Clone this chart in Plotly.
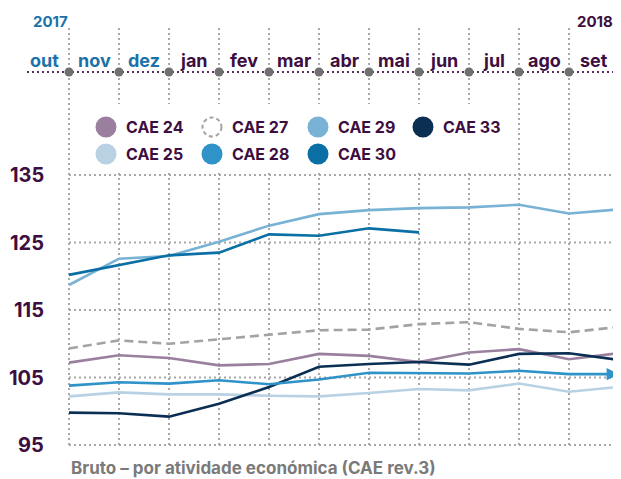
import plotly.graph_objects as go

# page is rendered with an 8px body margin: figure pixel = page pixel - 8
OFF = 8
W, H = 621 - OFF, 479 - OFF

months = ["out", "nov", "dez", "jan", "fev", "mar", "abr", "mai", "jun", "jul", "ago", "set"]
month_colors = ["#1a72a8"] * 3 + ["#3d0e40"] * 9
y_ticks = [95, 105, 115, 125, 135]

cae24 = [107.2, 108.3, 107.9, 106.8, 107.0, 108.5, 108.2, 107.3, 108.7, 109.2, 107.7, 108.6]
cae25 = [102.2, 102.8, 102.5, 102.5, 102.3, 102.2, 102.7, 103.3, 103.1, 104.1, 102.9, 103.6]
cae27 = [109.3, 110.5, 110.0, 110.7, 111.4, 112.0, 112.1, 112.9, 113.2, 112.2, 111.7, 112.5]
cae28 = [103.8, 104.3, 104.1, 104.6, 104.0, 104.7, 105.7, 105.7, 105.6, 106.0, 105.5, 105.5]
cae29 = [118.7, 122.6, 123.0, 125.1, 127.5, 129.2, 129.8, 130.1, 130.2, 130.6, 129.3, 129.9]
cae30 = [120.2, 121.6, 123.1, 123.5, 126.2, 126.0, 127.1, 126.5, None, None, None, None]
cae33 = [99.8, 99.7, 99.2, 101.1, 103.6, 106.6, 107.0, 107.3, 106.9, 108.5, 108.6, 107.6]

series = [
    ("CAE 24", cae24, "#9a7f9e", "solid"),
    ("CAE 25", cae25, "#b9d2e3", "solid"),
    ("CAE 27", cae27, "#a3a3a3", "9px,5px"),
    ("CAE 29", cae29, "#78b2d4", "solid"),
    ("CAE 30", cae30, "#0a6fa5", "solid"),
    ("CAE 33", cae33, "#0b2f52", "solid"),
    ("CAE 28", cae28, "#2f93c8", "solid"),
]
legend_order = ["CAE 24", "CAE 27", "CAE 29", "CAE 33", "CAE 25", "CAE 28", "CAE 30"]

PURPLE = "#3d0e40"
GRID = "#a8a8a8"
FONT = "Inter"


def px2x(px):
    return (px - OFF) / W


def py2y(py):
    return 1 - (py - OFF) / H


fig = go.Figure()
for name, vals, color, dash in series:
    fig.add_trace(go.Scatter(
        x=months, y=vals, mode="lines", name=name,
        line=dict(color=color, width=2.6, dash=dash),
        showlegend=False, hoverinfo="skip", connectgaps=False))

shapes = []
annotations = []

# arrow head at the end of CAE 28
annotations.append(dict(x=len(months) - 1, y=cae28[-1], xref="x", yref="y", text="",
                        showarrow=True, ax=-14, ay=0, axref="pixel", ayref="pixel",
                        arrowhead=2, arrowsize=0.95, arrowwidth=2.6, arrowcolor="#2f93c8",
                        standoff=0))

# vertical gridlines
for i in range(len(months)):
    shapes.append(dict(type="line", xref="x", yref="paper", x0=i, x1=i,
                       y0=py2y(28), y1=py2y(446), layer="below",
                       line=dict(color=GRID, width=2, dash="2px,3px")))
# horizontal gridlines
for v in y_ticks:
    shapes.append(dict(type="line", xref="paper", yref="y", x0=px2x(69), x1=1, y0=v, y1=v,
                       layer="below", line=dict(color=GRID, width=2, dash="2px,3px")))
    annotations.append(dict(x=px2x(46), y=v, xref="paper", yref="y", text=f"<b>{v}</b>",
                            showarrow=False, xanchor="right", yanchor="middle",
                            font=dict(family=FONT, size=20, color=PURPLE)))

# white legend background
shapes.append(dict(type="rect", xref="paper", yref="paper", x0=px2x(71), x1=px2x(517),
                   y0=py2y(104), y1=py2y(173), fillcolor="white", line=dict(width=0), layer="below"))

# top timeline
shapes.append(dict(type="line", xref="paper", yref="paper", x0=px2x(27), x1=1,
                   y0=py2y(72), y1=py2y(72), layer="below",
                   line=dict(color="#5b2d5e", width=2, dash="2px,3px")))
for i in range(len(months)):
    shapes.append(dict(type="circle", xref="x", yref="paper", xsizemode="pixel", ysizemode="pixel",
                       xanchor=i, yanchor=py2y(72), x0=-4.5, x1=4.5, y0=-4.5, y1=4.5,
                       fillcolor="#707070", line=dict(width=0), layer="above"))
for i, (m, c) in enumerate(zip(months, month_colors)):
    annotations.append(dict(x=i - 0.5, y=py2y(61), xref="x", yref="paper", text=f"<b>{m}</b>",
                            showarrow=False, xanchor="center", yanchor="middle",
                            font=dict(family=FONT, size=18, color=c)))
annotations.append(dict(x=px2x(50), y=py2y(22), xref="paper", yref="paper", text="<b>2017</b>",
                        showarrow=False, xanchor="center", yanchor="middle",
                        font=dict(family=FONT, size=15, color="#1a72a8")))
annotations.append(dict(x=px2x(595), y=py2y(22), xref="paper", yref="paper", text="<b>2018</b>",
                        showarrow=False, xanchor="center", yanchor="middle",
                        font=dict(family=FONT, size=15, color=PURPLE)))

# legend
col_x = [106, 212, 318, 423]
row_y = [127, 154]
colors = {s[0]: s[2] for s in series}
for k, name in enumerate(legend_order):
    cx = col_x[k % 4]
    cy = row_y[k // 4]
    if name == "CAE 27":
        shapes.append(dict(type="circle", xref="paper", yref="paper", xsizemode="pixel", ysizemode="pixel",
                           xanchor=px2x(cx), yanchor=py2y(cy), x0=-9.5, x1=9.5, y0=-9.5, y1=9.5,
                           fillcolor="white", line=dict(color="#a3a3a3", width=2, dash="4px,3px"),
                           layer="above"))
    else:
        shapes.append(dict(type="circle", xref="paper", yref="paper", xsizemode="pixel", ysizemode="pixel",
                           xanchor=px2x(cx), yanchor=py2y(cy), x0=-10.5, x1=10.5, y0=-10.5, y1=10.5,
                           fillcolor=colors[name], line=dict(width=0), layer="above"))
    annotations.append(dict(x=px2x(cx + 18), y=py2y(cy), xref="paper", yref="paper",
                            text=f"<b>{name}</b>", showarrow=False, xanchor="left", yanchor="middle",
                            font=dict(family=FONT, size=16, color=PURPLE)))

annotations.append(dict(x=px2x(69), y=py2y(468), xref="paper", yref="paper",
                        text="<b>Bruto – por atividade económica (CAE rev.3)</b>",
                        showarrow=False, xanchor="left", yanchor="middle",
                        font=dict(family=FONT, size=17, color="#7a7a7a")))

fig.update_layout(
    width=W, height=H,
    margin=dict(l=0, r=0, t=0, b=0),
    paper_bgcolor="white", plot_bgcolor="white",
    xaxis=dict(type="category", range=[-(69 - OFF) / 50, -(69 - OFF) / 50 + W / 50],
               visible=False, fixedrange=True),
    yaxis=dict(range=[95 - (479 - 445) / 6.75, 95 + (445 - OFF) / 6.75], visible=False, fixedrange=True),
    shapes=shapes, annotations=annotations, showlegend=False,
)

fig.write_html("out.html")
